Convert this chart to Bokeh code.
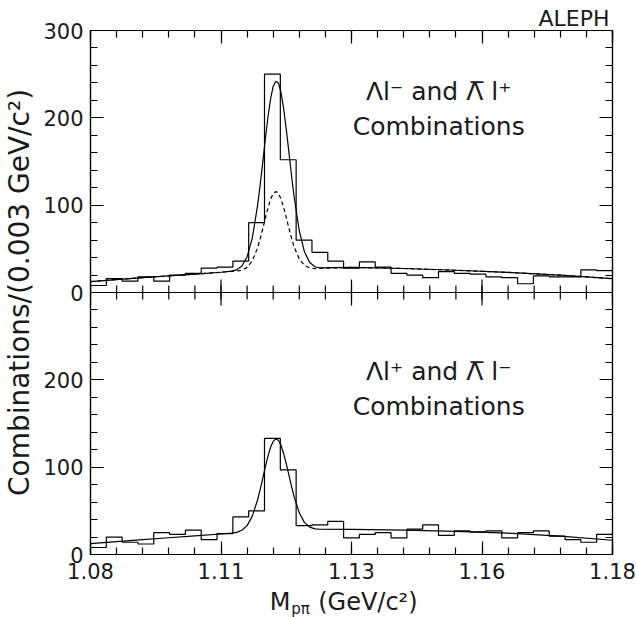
import numpy as np
from bokeh.plotting import figure
from bokeh.layouts import column
from bokeh.models import Range1d, LinearAxis, FixedTicker, Label, Span
from bokeh.embed import file_html
from bokeh.resources import INLINE

# ---------------- data ----------------
x_start, x_end = 1.08, 1.18          # 33 bins of ~0.003 GeV/c^2
panel_split = 300                    # bottom panel 0..300, top panel above

top_counts = [8, 16, 13, 18, 13, 20, 22, 28, 29, 36, 80, 250, 152, 60, 46, 36, 28,
              35, 29, 22, 20, 17, 24, 22, 21, 18, 17, 10, 19, 18, 18, 26, 25]
bottom_counts = [8, 20, 14, 12, 25, 23, 28, 17, 24, 43, 50, 133, 97, 33, 34, 38, 19,
                 23, 25, 19, 29, 34, 22, 27, 26, 27, 19, 25, 27, 21, 17, 14, 23]

curve_mass = [1.080, 1.085, 1.090, 1.095, 1.100, 1.105, 1.107, 1.108, 1.109, 1.110,
              1.111, 1.112, 1.1125, 1.113, 1.1135, 1.114, 1.1145, 1.115, 1.1155, 1.116,
              1.1165, 1.117, 1.1175, 1.118, 1.1185, 1.119, 1.120, 1.121, 1.122, 1.123,
              1.124, 1.130, 1.140, 1.150, 1.160, 1.170, 1.180]
top_fit = [12.5, 14.8, 17.0, 19.0, 21.1, 23.2, 24.5, 26.0, 30.3, 40.9,
           62.6, 99.4, 123.2, 149.3, 176.0, 201.0, 221.8, 236.2, 242.0, 240.0,
           228.9, 210.5, 187.1, 161.0, 134.6, 109.9, 70.4, 46.3, 34.4, 29.5,
           28.1, 28.8, 27.5, 25.5, 23.0, 19.8, 15.8]
top_fit_dashed = [12.5, 14.8, 17.0, 19.0, 21.1, 23.2, 24.1, 24.5, 25.6, 28.8,
                  36.3, 51.0, 61.2, 72.9, 85.3, 97.0, 106.8, 113.3, 115.7, 113.5,
                  107.2, 97.6, 86.1, 73.9, 62.4, 52.4, 38.1, 31.0, 28.2, 27.3,
                  27.6, 28.8, 27.5, 25.5, 23.0, 19.8, 15.8]
bottom_fit = [12.5, 14.8, 17.0, 19.2, 21.4, 23.5, 24.5, 25.4, 27.7, 33.1,
              43.9, 62.4, 74.2, 87.2, 100.5, 112.7, 122.8, 129.6, 132.4, 130.8,
              125.0, 115.6, 104.0, 91.1, 78.2, 66.3, 47.7, 36.5, 31.3, 29.3,
              28.9, 28.7, 27.8, 26.5, 24.5, 21.0, 16.3]

x_tick_values = [1.08, 1.105, 1.13, 1.155, 1.18]
x_tick_labels = ["1.08", "1.11", "1.13", "1.16", "1.18"]
x_minor_step = 0.005
y_tick_values = [0, 100, 200, 300, 400, 500, 600]
y_tick_labels = ["0", "100", "200", "0", "100", "200", "300"]
y_minor_step = 20

top_text = ["\u039bl\u207b and \u039b\u0305 l\u207a", "Combinations"]
bottom_text = ["\u039bl\u207a and \u039b\u0305 l\u207b", "Combinations"]
y_title = "Combinations/(0.003 GeV/c\u00b2)"
x_title = ["M", "p\u03c0", "(GeV/c\u00b2)"]
experiment = "ALEPH"

# ---------------- styling ----------------
FONT = "DejaVu Sans"
INK = "#1a1a1a"
LW = 1.2

p = figure(width=636, height=587,
           x_range=Range1d(x_start, x_end), y_range=Range1d(0, 600),
           output_backend="svg", toolbar_location=None,
           min_border_left=87, min_border_right=24,
           min_border_top=30, min_border_bottom=33)
p.extra_y_ranges = {"top": Range1d(-panel_split, panel_split)}
p.xgrid.visible = False
p.ygrid.visible = False
p.outline_line_color = "black"
p.outline_line_width = 1.2
p.background_fill_color = "white"
p.border_fill_color = "white"

p.title.text = experiment
p.title.align = "right"
p.title.text_font = FONT
p.title.text_font_size = "22px"
p.title.text_font_style = "normal"
p.title.text_color = INK
p.title.standoff = 0
p.title.offset = 3

x_minor = [round(v, 4) for v in np.arange(x_start, x_end + 1e-9, x_minor_step)]
y_minor = list(range(0, 601, y_minor_step))


def x_ticker():
    return FixedTicker(ticks=x_tick_values, minor_ticks=x_minor)


def y_ticker():
    return FixedTicker(ticks=y_tick_values, minor_ticks=y_minor)


def style_axis(ax, overrides=None, size="21px", standoff=0):
    ax.axis_line_color = "black"
    ax.axis_line_width = 1.2
    ax.major_tick_line_color = "black"
    ax.minor_tick_line_color = "black"
    ax.major_tick_line_width = 1.2
    ax.minor_tick_line_width = 1.2
    ax.major_tick_in = 13
    ax.major_tick_out = 0
    ax.minor_tick_in = 7
    ax.minor_tick_out = 0
    if overrides is None:
        ax.major_label_text_font_size = "0px"
        ax.major_label_standoff = 0
    else:
        ax.major_label_overrides = overrides
        ax.major_label_text_font = FONT
        ax.major_label_text_font_size = size
        ax.major_label_text_color = INK
        ax.major_label_standoff = standoff


bottom_ax = p.below[0]
bottom_ax.ticker = x_ticker()
style_axis(bottom_ax, {v: l for v, l in zip(x_tick_values, x_tick_labels)}, standoff=8)

left_ax = p.left[0]
left_ax.ticker = y_ticker()
style_axis(left_ax, {v: l for v, l in zip(y_tick_values, y_tick_labels)}, standoff=7)
left_ax.axis_label = y_title
left_ax.axis_label_text_font = FONT
left_ax.axis_label_text_font_size = "28px"
left_ax.axis_label_text_font_style = "normal"
left_ax.axis_label_text_color = INK
left_ax.axis_label_standoff = 4

top_ax = LinearAxis(ticker=x_ticker())
style_axis(top_ax, {v: "" for v in x_tick_values})
top_ax.major_label_text_font_size = "0px"
p.add_layout(top_ax, "above")

right_ax = LinearAxis(ticker=y_ticker())
style_axis(right_ax, {v: "" for v in y_tick_values})
right_ax.major_label_text_font_size = "0px"
p.add_layout(right_ax, "right")

# boundary between the two panels, with ticks crossing it
p.add_layout(Span(location=panel_split, dimension="width", line_color="black", line_width=1.2))
p.scatter(x=x_minor, y=[panel_split] * len(x_minor), marker="dash", angle=np.pi / 2,
          size=14, line_color="black", line_width=1.2)
p.scatter(x=x_tick_values, y=[panel_split] * len(x_tick_values), marker="dash",
          angle=np.pi / 2, size=26, line_color="black", line_width=1.2)


def hist_steps(counts):
    edges = np.linspace(x_start, x_end, len(counts) + 1)
    return edges, list(counts) + [counts[-1]]


# ---------------- top panel ----------------
ex, ey = hist_steps(top_counts)
p.step(ex, ey, mode="after", line_color="black", line_width=LW, y_range_name="top")
p.line(curve_mass, top_fit, line_color="black", line_width=LW, y_range_name="top")
p.line(curve_mass, top_fit_dashed, line_color="black", line_width=LW,
       line_dash="4 3", y_range_name="top")

# ---------------- bottom panel ----------------
ex, ey = hist_steps(bottom_counts)
p.step(ex, ey, mode="after", line_color="black", line_width=LW)
p.line(curve_mass, bottom_fit, line_color="black", line_width=LW)


# ---------------- texts (anchored at their vertical middle) ----------------
def add_label(fig, x, y, text, size, align="center", range_name="default"):
    fig.add_layout(Label(x=x, y=y, text=text, text_align=align,
                         text_baseline="middle", text_font=FONT,
                         text_font_size=size, text_color=INK, y_range_name=range_name))


add_label(p, 1.1467, 229.8, top_text[0], "25px", range_name="top")
add_label(p, 1.1467, 189.7, top_text[1], "25px", range_name="top")
add_label(p, 1.1467, 209.1, bottom_text[0], "25px")
add_label(p, 1.1467, 169.1, bottom_text[1], "25px")

# x-axis title strip below the plot (shares the mass axis), with the subscript
px = figure(width=636, height=30, x_range=p.x_range, y_range=Range1d(0, 30),
            x_axis_type=None, y_axis_type=None, min_border=0,
            output_backend="svg", toolbar_location=None, outline_line_color=None)
px.background_fill_color = "white"
px.border_fill_color = "white"
add_label(px, 1.118286, 16, x_title[0], "24px", align="right")
add_label(px, 1.118476, 9, x_title[1], "15px", align="left")
add_label(px, 1.12362, 16, x_title[2], "24px", align="left")

layout = column(p, px, spacing=0)
open("out.html", "w").write(file_html(layout, INLINE))
